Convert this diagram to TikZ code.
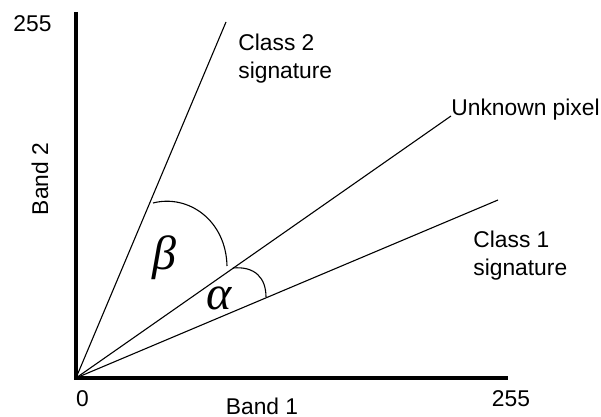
\documentclass[tikz,border=0pt]{standalone}
\usepackage{fontspec}
\setmainfont{Liberation Sans}
\newfontfamily\greekfont{Liberation Serif}
\begin{document}
\begin{tikzpicture}[x=0.5pt,y=-0.5pt,
  lbl/.style={inner sep=0pt,font=\fontsize{11.4}{14}\selectfont},
  grk/.style={inner sep=0pt,font=\fontsize{24}{28}\selectfont\greekfont\itshape},
  axis/.style={line width=1.6pt},
  ray/.style={line width=0.55pt},
  arcline/.style={line width=0.55pt}]
\useasboundingbox (0,0) rectangle (601,417);
% axes
\coordinate (top) at (76,12);
\coordinate (O) at (76,378);
\coordinate (right) at (508,378);
\draw[axis] (top) -- (O) -- (right);
% rays
\coordinate (c2) at (226,22);
\coordinate (up) at (451,116);
\coordinate (c1) at (498,200);
\draw[ray] (O) -- (c2);
\draw[ray] (O) -- (up);
\draw[ray] (O) -- (c1);
% angle arcs
\draw[arcline] (153,203) .. controls (188,194) and (226,220) .. (227,266);
\draw[arcline] (233,268) .. controls (255,266) and (266,278) .. (266,297);
\node[grk] (beta) at (164,258) {β};
\node[grk] (alpha) at (219,298) {α};
% labels
\node[lbl,anchor=base] (y255) at (32.5,32) {255};
\node[lbl,anchor=base] (zero) at (82.5,407) {0};
\node[lbl,anchor=base] (x255) at (511,407) {255};
\node[lbl,anchor=base] (band1) at (262,415) {Band 1};
\node[lbl,anchor=base,rotate=90] (band2) at (48,179) {Band 2};
\node[lbl,anchor=north west,align=left] (class2) at (238,33.5) {Class 2\\signature};
\node[lbl,anchor=base west] (unk) at (451,116) {Unknown pixel};
\node[lbl,anchor=north west,align=left] (class1) at (473,230.5) {Class 1\\signature};
\end{tikzpicture}
\end{document}
